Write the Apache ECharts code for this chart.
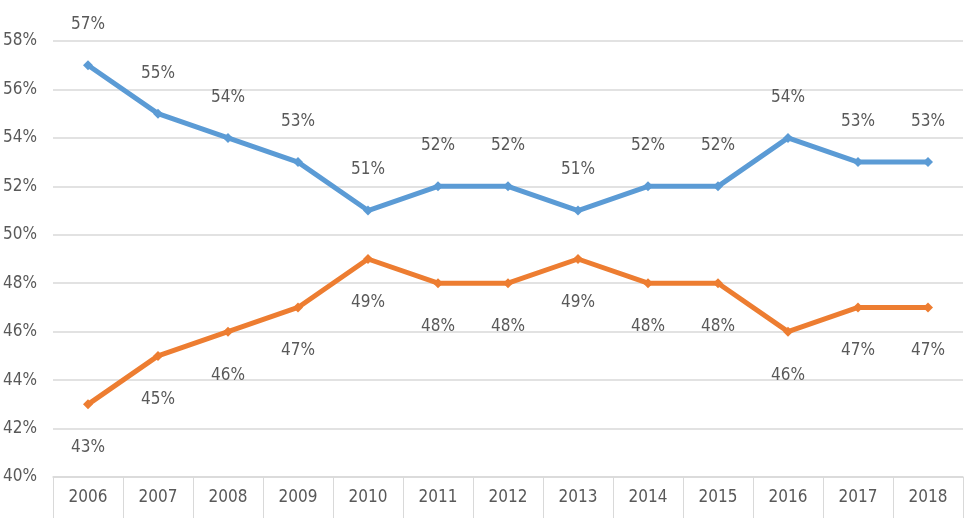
<!DOCTYPE html>
<html>
<head>
<meta charset="utf-8">
<script src="https://cdn.jsdelivr.net/npm/echarts@6/dist/echarts.min.js"></script>
<style>
html,body{margin:0;padding:0;background:#fff;}
#chart{width:966px;height:518px;}
</style>
</head>
<body>
<div id="chart"></div>
<script>
// Yearly shares, in percent
const years = ['2006','2007','2008','2009','2010','2011','2012','2013','2014','2015','2016','2017','2018'];
const blueShare = [57,55,54,53,51,52,52,51,52,52,54,53,53];
const orangeShare = [43,45,46,47,49,48,48,49,48,48,46,47,47];

const FONT = '"Liberation Sans Narrow", "DejaVu Sans Condensed", sans-serif';
const TEXT = '#595959';

const chart = echarts.init(document.getElementById('chart'));

function lineSeries(name, data, color, pos, dist) {
  return {
    name: name,
    type: 'line',
    data: data,
    symbol: 'diamond',
    symbolSize: 10,
    lineStyle: { color: color, width: 5 },
    itemStyle: { color: color },
    label: {
      show: true,
      position: pos,
      distance: dist,
      formatter: p => p.value + '%',
      color: TEXT,
      fontFamily: FONT,
      fontSize: 17
    },
    z: 3
  };
}

chart.setOption({
  animation: false,
  grid: { left: 53, right: 3, top: 41, bottom: 41 },
  xAxis: {
    type: 'category',
    data: years,
    boundaryGap: true,
    axisLine: { lineStyle: { color: '#d9d9d9', width: 1.5 } },
    axisTick: { show: true, length: 41, interval: 0, lineStyle: { color: '#d9d9d9' } },
    axisLabel: { color: TEXT, fontFamily: FONT, fontSize: 17, margin: 12, interval: 0 }
  },
  yAxis: {
    type: 'value',
    min: 40,
    max: 58,
    interval: 2,
    axisLine: { show: false },
    axisTick: { show: false },
    splitLine: { lineStyle: { color: '#d9d9d9', width: 1.5 } },
    axisLabel: { color: TEXT, fontFamily: FONT, fontSize: 17, margin: 16, formatter: '{value}%' }
  },
  series: [
    lineSeries('blue', blueShare, '#5B9BD5', 'top', 27),
    lineSeries('orange', orangeShare, '#ED7D31', 'bottom', 30)
  ]
});
</script>
</body>
</html>
